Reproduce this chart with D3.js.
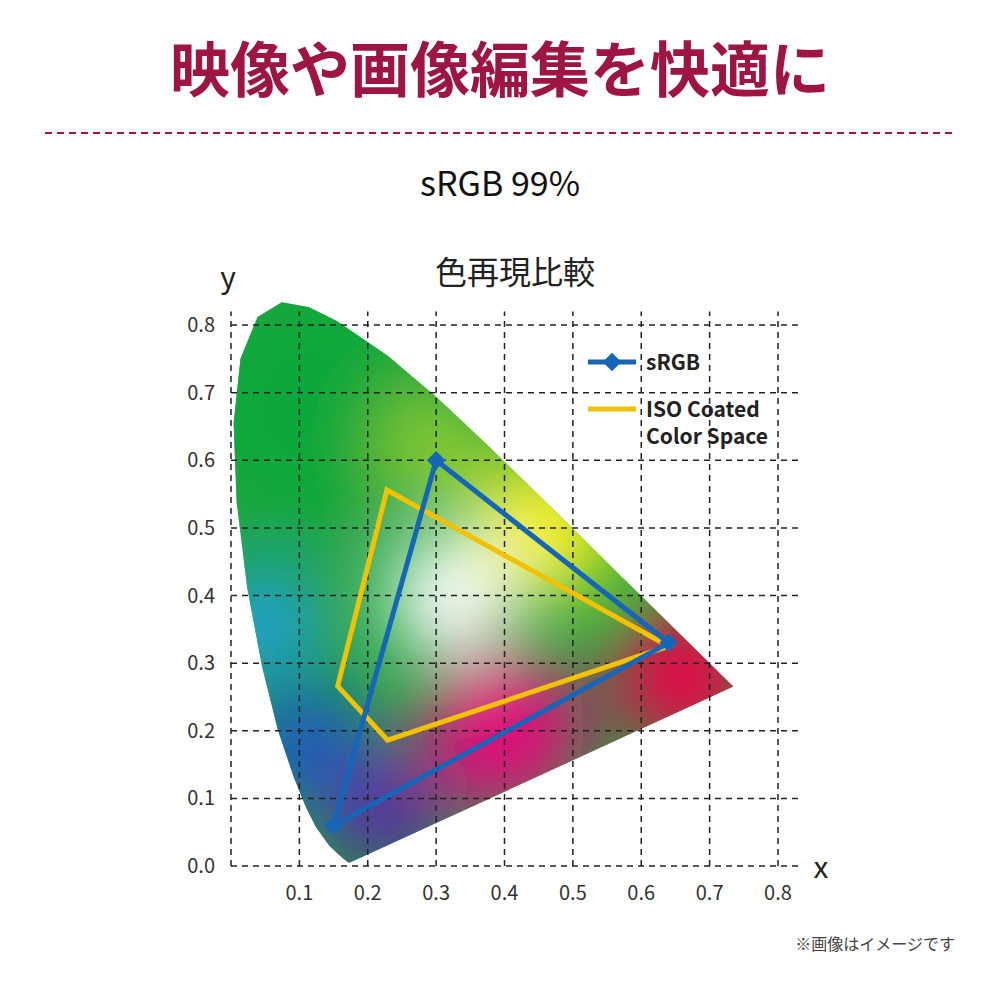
<!DOCTYPE html>
<html><head><meta charset="utf-8">
<script src="https://cdn.jsdelivr.net/npm/d3@7"></script>
<style>body{margin:0;background:#fff}text{font-family:"Noto Sans CJK JP","Noto Sans",sans-serif}</style>
</head><body>
<svg id="chart" width="1000" height="1000"></svg>
<script>
// CIE 1931 spectral locus (x, y)
const locus = [[0.1741,0.005],[0.1714,0.0051],[0.1644,0.0109],[0.1566,0.0177],[0.144,0.0297],[0.1241,0.0578],[0.1096,0.0868],[0.0913,0.1327],[0.0687,0.2007],[0.0454,0.295],[0.0235,0.4127],[0.0082,0.5384],[0.0039,0.6548],[0.0139,0.7502],[0.0389,0.812],[0.0743,0.8338],[0.1142,0.8262],[0.1547,0.8059],[0.2296,0.7543],[0.3016,0.6923],[0.3731,0.6245],[0.4441,0.5547],[0.5125,0.4866],[0.5752,0.4242],[0.627,0.3725],[0.6915,0.3083],[0.719,0.2809],[0.7347,0.2653]];
const srgb = [[0.64,0.33],[0.30,0.60],[0.15,0.06]];
const isoCoated = [[0.228,0.556],[0.64,0.325],[0.229,0.186],[0.156,0.266]];
const xTicks = [0.1,0.2,0.3,0.4,0.5,0.6,0.7,0.8];
const yTicks = [0.0,0.1,0.2,0.3,0.4,0.5,0.6,0.7,0.8];
// colour blobs inside the locus: x, y, radius (in chart units), colour
const blobs = [[0.12,0.68,0.18,"#10a83a"],[0.3,0.62,0.08,"#8ccc30"],[0.46,0.5,0.11,"#f4ee20"],[0.66,0.28,0.1,"#f0004a"],[0.4,0.2,0.12,"#e0107a"],[0.22,0.08,0.09,"#5a2aa0"],[0.11,0.18,0.09,"#1a58c0"],[0.05,0.36,0.08,"#20a0e0"],[0.32,0.4,0.09,"#ffffff"]];

const svg = d3.select("#chart");
const x = d3.scaleLinear().domain([0,0.8]).range([231,778]);
const y = d3.scaleLinear().domain([0,0.8]).range([866,325]);

svg.append("text").attr("x",500).attr("y",92).attr("text-anchor","middle")
  .attr("font-size",60).attr("font-weight",700).attr("fill","#9e1541").text("映像や画像編集を快適に");
svg.append("line").attr("x1",45).attr("x2",955).attr("y1",133).attr("y2",133)
  .attr("stroke","#9e1541").attr("stroke-width",2).attr("stroke-dasharray","7,5");
svg.append("text").attr("x",500).attr("y",196).attr("text-anchor","middle")
  .attr("font-size",34).attr("fill","#111").text("sRGB 99%");
svg.append("text").attr("x",515).attr("y",284).attr("text-anchor","middle")
  .attr("font-size",32).attr("fill","#222").text("色再現比較");

const defs = svg.append("defs");
const line = d3.line().x(d => x(d[0])).y(d => y(d[1]));
defs.append("clipPath").attr("id","loc").append("path").attr("d", line(locus) + "Z");
defs.append("filter").attr("id","blur").attr("filterUnits","userSpaceOnUse")
  .attr("x",0).attr("y",150).attr("width",1000).attr("height",850)
  .append("feGaussianBlur").attr("stdDeviation",35);

const g = svg.append("g").attr("clip-path","url(#loc)");
g.append("rect").attr("x",200).attr("y",280).attr("width",600).attr("height",620).attr("fill","#20a440");
g.append("g").attr("filter","url(#blur)").selectAll("circle").data(blobs).join("circle")
  .attr("cx", d => x(d[0])).attr("cy", d => y(d[1])).attr("r", d => x(d[2]) - x(0)).attr("fill", d => d[3]);

// grid
const grid = svg.append("g").attr("stroke","#222").attr("stroke-width",1.5).attr("stroke-dasharray","6,5");
grid.selectAll(".v").data([0].concat(xTicks)).join("line")
  .attr("x1", d => x(d)).attr("x2", d => x(d)).attr("y1", y(0)).attr("y2", y(0.82));
grid.selectAll(".h").data(yTicks).join("line")
  .attr("y1", d => y(d)).attr("y2", d => y(d)).attr("x1", x(0)).attr("x2", x(0.83));

const tf = d3.format(".1f");
svg.append("g").selectAll("text").data(xTicks).join("text")
  .attr("x", d => x(d)).attr("y", 900).attr("text-anchor","middle").attr("font-size",20).attr("fill","#333").text(tf);
svg.append("g").selectAll("text").data(yTicks).join("text")
  .attr("x", 215).attr("y", d => y(d) + 7).attr("text-anchor","end").attr("font-size",20).attr("fill","#333").text(tf);
svg.append("text").attr("x",228).attr("y",288).attr("text-anchor","middle").attr("font-size",30).attr("fill","#222").text("y");
svg.append("text").attr("x",821).attr("y",878).attr("text-anchor","middle").attr("font-size",30).attr("fill","#222").text("x");

// gamuts
svg.append("path").attr("d", line(isoCoated) + "Z").attr("fill","none").attr("stroke","#f2c200").attr("stroke-width",5);
svg.append("path").attr("d", line(srgb) + "Z").attr("fill","none").attr("stroke","#1565b8").attr("stroke-width",5);
const diamond = d3.symbol().type(d3.symbolSquare).size(170);
svg.append("g").selectAll("path").data(srgb).join("path")
  .attr("transform", d => `translate(${x(d[0])},${y(d[1])}) rotate(45)`).attr("d", diamond).attr("fill","#1565b8");

// legend
svg.append("line").attr("x1",588).attr("x2",636).attr("y1",362).attr("y2",362).attr("stroke","#1565b8").attr("stroke-width",5);
svg.append("path").attr("transform","translate(612,362) rotate(45)").attr("d", diamond).attr("fill","#1565b8");
svg.append("text").attr("x",646).attr("y",370).attr("font-size",21).attr("font-weight",700).attr("fill","#222").text("sRGB");
svg.append("line").attr("x1",588).attr("x2",636).attr("y1",409).attr("y2",409).attr("stroke","#f2c200").attr("stroke-width",5);
svg.append("text").attr("x",646).attr("y",417).attr("font-size",21).attr("font-weight",700).attr("fill","#222").text("ISO Coated");
svg.append("text").attr("x",646).attr("y",444).attr("font-size",21).attr("font-weight",700).attr("fill","#222").text("Color Space");

svg.append("text").attr("x",955).attr("y",950).attr("text-anchor","end").attr("font-size",16).attr("fill","#444").text("※画像はイメージです");
</script>
</body></html>
